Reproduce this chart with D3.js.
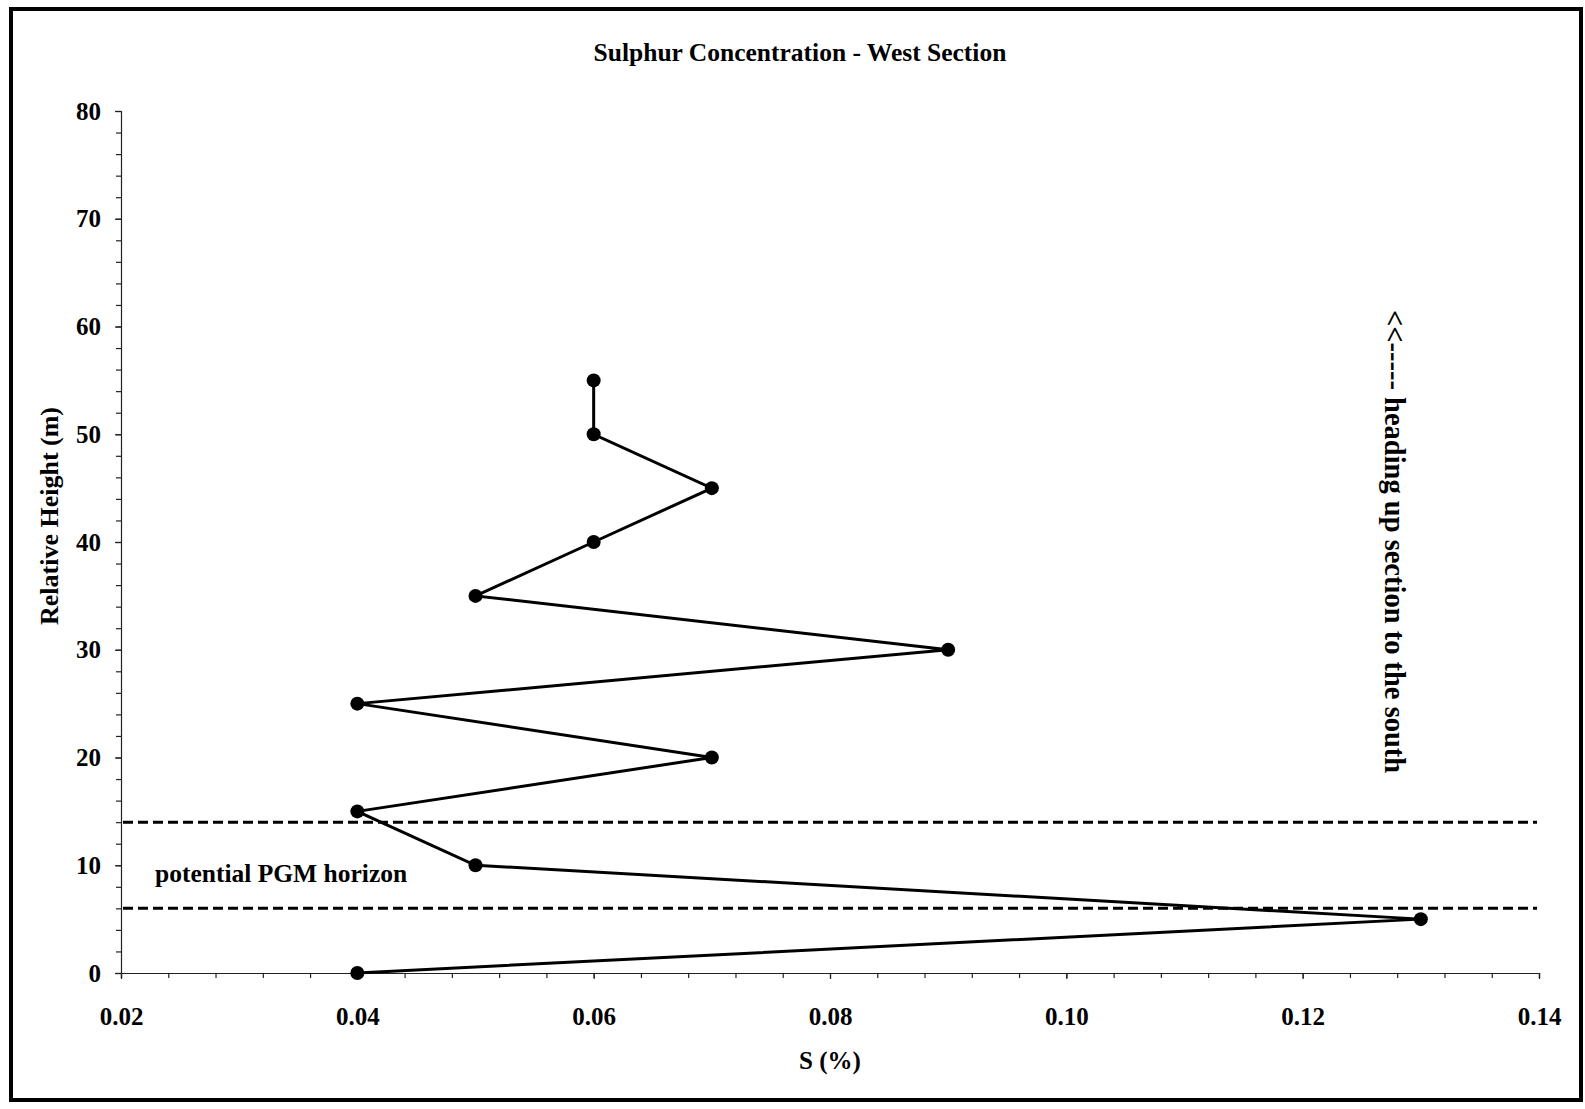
<!DOCTYPE html>
<html>
<head>
<meta charset="utf-8">
<script src="https://cdn.jsdelivr.net/npm/d3@7"></script>
<style>
  body { margin: 0; background: #fff; }
  svg text { font-family: "Liberation Serif", "Times New Roman", serif; font-weight: bold; fill: #000; }
  .axis path, .axis line { stroke: #222; stroke-width: 1.2; }
  .axis text { font-size: 25px; }
</style>
</head>
<body>
<div id="chart-area"></div>
<script>
// readings: S (%) at each relative height (m)
const heights = [0, 5, 10, 15, 20, 25, 30, 35, 40, 45, 50, 55];
const sulphur = [0.04, 0.13, 0.05, 0.04, 0.07, 0.04, 0.09, 0.05, 0.06, 0.07, 0.06, 0.06];
const xTicks = [0.02, 0.04, 0.06, 0.08, 0.10, 0.12, 0.14];
const yTicks = [0, 10, 20, 30, 40, 50, 60, 70, 80];
const horizonBounds = [14, 6];

const chartSize = { width: 1585, height: 1109 };
const margin = { left: 121, right: 46, top: 111, bottom: 136 };
const width = chartSize.width - (margin.left + margin.right);
const height = chartSize.height - (margin.top + margin.bottom);

const svg = d3.select('#chart-area').append('svg')
  .attr('width', chartSize.width)
  .attr('height', chartSize.height);

svg.append('rect')
  .attr('x', 11).attr('y', 9)
  .attr('width', 1570).attr('height', 1091)
  .attr('fill', 'none')
  .attr('stroke', '#000')
  .attr('stroke-width', 4);

svg.append('text')
  .attr('x', 800).attr('y', 61)
  .attr('text-anchor', 'middle')
  .style('font-size', '25.5px')
  .text('Sulphur Concentration - West Section');

const g = svg.append('g')
  .attr('transform', `translate(${margin.left},${margin.top})`);

const x = d3.scaleLinear().domain([0.02, 0.14]).range([0, width]);
const y = d3.scaleLinear().domain([0, 80]).range([height, 0]);

// minor ticks first, then the labelled ones
g.append('g')
  .attr('class', 'axis')
  .attr('transform', `translate(0,${height})`)
  .call(d3.axisBottom(x).tickValues(d3.range(0.02, 0.1401, 0.004)).tickSize(5).tickFormat(''));
g.append('g')
  .attr('class', 'axis')
  .call(d3.axisLeft(y).tickValues(d3.range(0, 81, 2)).tickSize(5).tickFormat(''));

g.append('g')
  .attr('class', 'axis x')
  .attr('transform', `translate(0,${height})`)
  .call(d3.axisBottom(x).tickValues(xTicks).tickSize(6).tickPadding(28).tickFormat(d3.format('.2f')))
  .call(a => a.select('.domain').remove());

g.append('g')
  .attr('class', 'axis y')
  .call(d3.axisLeft(y).tickValues(yTicks).tickSize(6).tickPadding(14))
  .call(a => a.select('.domain').remove());

g.append('text')
  .attr('x', x(0.08)).attr('y', height + 96)
  .attr('text-anchor', 'middle')
  .style('font-size', '25px')
  .text('S (%)');

svg.append('text')
  .attr('transform', 'rotate(-90)')
  .attr('x', -516).attr('y', 58)
  .attr('text-anchor', 'middle')
  .style('font-size', '26px')
  .text('Relative Height (m)');

// potential PGM horizon bounds
g.selectAll('.bound')
  .data(horizonBounds)
  .enter().append('line')
  .attr('class', 'bound')
  .attr('x1', 2).attr('x2', width - 2)
  .attr('y1', d => y(d)).attr('y2', d => y(d))
  .attr('stroke', '#000')
  .attr('stroke-width', 3)
  .attr('stroke-dasharray', '10 5');

g.append('text')
  .attr('x', 34).attr('y', y(10) + 17)
  .style('font-size', '25.5px')
  .text('potential PGM horizon');

const points = heights.map((h, i) => ({ h, s: sulphur[i] }));

g.append('path')
  .datum(points)
  .attr('fill', 'none')
  .attr('stroke', '#000')
  .attr('stroke-width', 3)
  .attr('d', d3.line().x(d => x(d.s)).y(d => y(d.h)));

g.selectAll('.pt')
  .data(points)
  .enter().append('circle')
  .attr('class', 'pt')
  .attr('cx', d => x(d.s))
  .attr('cy', d => y(d.h))
  .attr('r', 7)
  .attr('fill', '#000');

svg.append('text')
  .attr('transform', 'translate(1385,310) rotate(90)')
  .style('font-size', '28.5px')
  .text('<<----- heading up section to the south');
</script>
</body>
</html>
